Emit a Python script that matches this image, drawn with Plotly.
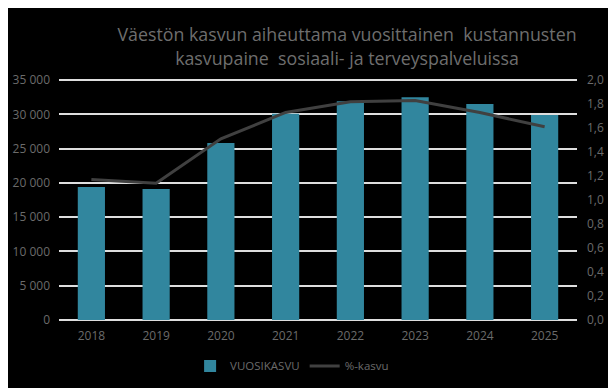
import plotly.graph_objects as go

years = ["2018", "2019", "2020", "2021", "2022", "2023", "2024", "2025"]
vuosikasvu = [19400, 19100, 25800, 30100, 31900, 32500, 31500, 29900]
pct_kasvu = [1.17, 1.14, 1.51, 1.73, 1.82, 1.83, 1.73, 1.61]

left_ticks = [0, 5000, 10000, 15000, 20000, 25000, 30000, 35000]
right_ticks = [0.0, 0.2, 0.4, 0.6, 0.8, 1.0, 1.2, 1.4, 1.6, 1.8, 2.0]

font_family = "Open Sans, Noto Sans, sans-serif"
gray = "#6b6b6b"
pad = 300  # padding so the edge gridlines are drawn

fig = go.Figure()
fig.add_trace(go.Bar(
    x=years, y=vuosikasvu, name="VUOSIKASVU",
    marker=dict(color="#31869e", line=dict(width=0)),
    yaxis="y",
))
fig.add_trace(go.Scatter(
    x=years, y=pct_kasvu, name="%-kasvu", mode="lines",
    line=dict(color="#404040", width=3),
    yaxis="y2",
))

# page body has an 8px margin; figure sized to fit the 616x388 window
fig.update_layout(
    width=608, height=380,
    paper_bgcolor="black", plot_bgcolor="black",
    separators=", ",
    margin=dict(l=51, r=39, t=70, b=66, autoexpand=False),
    bargap=0.58,
    font=dict(family=font_family, color=gray, size=12),
    title=dict(
        text="Väestön kasvun aiheuttama vuosittainen  kustannusten<br>kasvupaine  sosiaali- ja terveyspalveluissa",
        x=0.5576, xanchor="center", y=0.912, yanchor="middle",
        font=dict(size=17.8, color="#6e6e6e", family=font_family),
    ),
    xaxis=dict(showgrid=False, zeroline=False, showline=False, automargin=False,
               tickfont=dict(size=12, color=gray), ticks="outside",
               ticklen=3, tickcolor="black"),
    yaxis=dict(range=[-pad, 35000 + pad], tickvals=left_ticks, tickformat=",.0f",
               showgrid=True, gridcolor="#dedede", gridwidth=1.7,
               zeroline=True, zerolinecolor="#dedede", zerolinewidth=1.7,
               showline=False, automargin=False, ticklabelstandoff=8,
               tickfont=dict(size=12, color=gray)),
    yaxis2=dict(range=[-pad / 17500, 2.0 + pad / 17500], tickvals=right_ticks,
                tickformat=".1f", automargin=False, ticklabelstandoff=9,
                overlaying="y", side="right", showgrid=False,
                zeroline=False, showline=False,
                tickfont=dict(size=12, color=gray)),
    legend=dict(orientation="h", x=0.45, xanchor="center",
                yref="container", y=0.058, yanchor="middle",
                font=dict(size=11.5, color=gray), bgcolor="rgba(0,0,0,0)"),
    showlegend=True,
)

fig.write_html("out.html")
